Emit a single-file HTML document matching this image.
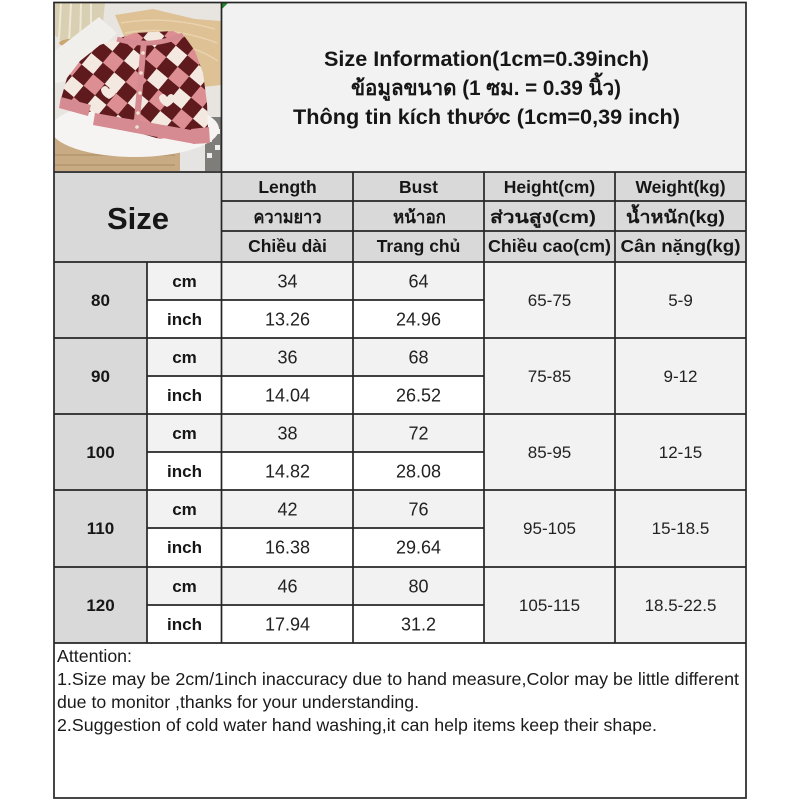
<!DOCTYPE html>
<html><head><meta charset="utf-8"><style>
html,body{margin:0;padding:0;background:#fff}
svg{display:block}
text{font-family:"Liberation Sans","DejaVu Sans","Noto Sans CJK SC",sans-serif;fill:#161616}
.b{font-weight:bold}
.c{text-anchor:middle}
.n{font-size:18px;fill:#222}
.u{font-size:17px;font-weight:bold}
.h{font-size:17.5px;font-weight:bold}
.m{font-size:17px;fill:#222}
.s{font-size:17px;font-weight:bold}
.a{font-size:17.5px;fill:#1a1a1a}
</style></head><body>
<svg width="800" height="800" viewBox="0 0 800 800" xmlns="http://www.w3.org/2000/svg">
<defs>
<pattern id="knit" width="30" height="30" patternUnits="userSpaceOnUse" patternTransform="rotate(40)">
<rect x="0" y="0" width="15" height="15" fill="#5e1a1c"/>
<rect x="15" y="0" width="15" height="15" fill="#dc8e93"/>
<rect x="0" y="15" width="15" height="15" fill="#f4e9e1"/>
<rect x="15" y="15" width="15" height="15" fill="#5e1a1c"/>
</pattern>
<clipPath id="pc"><rect x="0" y="0" width="166" height="168"/></clipPath>
</defs>
<rect x="0" y="0" width="800" height="800" fill="#fff"/>

<!-- fills -->
<rect x="222" y="2" width="524" height="170" fill="#f2f2f2"/>
<rect x="54" y="172" width="692" height="90" fill="#d9d9d9"/>
<rect x="54" y="262" width="93" height="381" fill="#d9d9d9"/>
<rect x="147" y="262" width="337" height="38" fill="#f2f2f2"/>
<rect x="147" y="338" width="337" height="38" fill="#f2f2f2"/>
<rect x="147" y="414" width="337" height="38" fill="#f2f2f2"/>
<rect x="147" y="490" width="337" height="38" fill="#f2f2f2"/>
<rect x="147" y="567" width="337" height="38" fill="#f2f2f2"/>
<rect x="484" y="262" width="262" height="381" fill="#f2f2f2"/>

<!-- photo -->
<g transform="translate(55,3)" clip-path="url(#pc)">
<rect x="0" y="0" width="166" height="168" fill="#e8e5e0"/>
<polygon points="0,0 50,0 46,38 28,44 8,40 0,32" fill="#d9cfb2"/>
<g stroke="#efe8d6" stroke-width="2"><line x1="6" y1="0" x2="4" y2="36"/><line x1="16" y1="0" x2="14" y2="40"/><line x1="26" y1="0" x2="25" y2="42"/><line x1="36" y1="0" x2="36" y2="40"/></g>
<ellipse cx="26" cy="40" rx="22" ry="5" fill="#c9a672"/>
<polygon points="0,48 44,14 62,30 12,78 0,80" fill="#f1efec"/>
<polygon points="60,12 98,6 140,16 166,18 166,82 148,84 120,60 72,40" fill="#dfc196"/>
<g stroke="#e9d2ad" stroke-width="1.5" fill="none"><path d="M66,20 Q110,12 160,26"/><path d="M70,30 Q115,22 162,40"/><path d="M90,42 Q130,36 163,58"/></g>
<rect x="0" y="128" width="125" height="40" fill="#c8ab82"/>
<g stroke="#b3966c" stroke-width="1.5"><line x1="0" y1="152" x2="120" y2="152"/><line x1="0" y1="162" x2="120" y2="162"/></g>
<rect x="125" y="120" width="41" height="48" fill="#e6e4e2"/>
<rect x="150" y="114" width="16" height="54" fill="#7e7d7a"/>
<g fill="#eeeeec"><rect x="152" y="118" width="5" height="5"/><rect x="160" y="126" width="5" height="5"/><rect x="152" y="134" width="5" height="5"/><rect x="160" y="142" width="5" height="5"/><rect x="152" y="150" width="5" height="5"/></g>
<ellipse cx="80" cy="126" rx="84" ry="28" fill="#f6f4f2"/>
<path d="M62,36 L80,30 L118,28 L130,34 L140,48 L148,70 L152,100 L153,128 L150,138 L138,138 L136,130 L105,136 L70,126 L42,116 L38,108 L30,110 L10,106 L6,96 L12,75 L25,58 L45,42 Z" fill="url(#knit)"/>
<g fill="#f4e9e1"><path d="M46,86 q4,-6 8,0 q4,-6 8,0 q0,6 -8,10 q-8,-4 -8,-10z"/><path d="M104,94 q4,-6 8,0 q4,-6 8,0 q0,6 -8,10 q-8,-4 -8,-10z"/></g>
<polygon points="40,110 142,128 140,141 38,122" fill="#d68a91"/>
<polygon points="6,94 36,102 33,113 4,105" fill="#d68a91"/>
<polygon points="136,126 154,124 155,140 138,141" fill="#d68a91"/>
<path d="M62,36 Q95,46 128,32" stroke="#d68a91" stroke-width="5" fill="none"/>
<line x1="89" y1="38" x2="81" y2="128" stroke="#d68a91" stroke-width="6"/>
<g fill="#efe3d0"><circle cx="88" cy="50" r="1.8"/><circle cx="86" cy="70" r="1.8"/><circle cx="85" cy="90" r="1.8"/><circle cx="83" cy="110" r="1.8"/><circle cx="82" cy="124" r="1.8"/></g>
</g>
<polygon points="222,2 229,2 222,9" fill="#1e8a2a"/>

<!-- grid lines -->
<g stroke="#262626" stroke-width="1.7" fill="none">
<rect x="54" y="2.5" width="692" height="795.5"/>
<line x1="54" y1="172" x2="746" y2="172"/>
<line x1="222" y1="201" x2="746" y2="201"/>
<line x1="222" y1="231" x2="746" y2="231"/>
<line x1="54" y1="262" x2="746" y2="262"/>
<line x1="54" y1="338" x2="746" y2="338"/>
<line x1="54" y1="414" x2="746" y2="414"/>
<line x1="54" y1="490" x2="746" y2="490"/>
<line x1="54" y1="567" x2="746" y2="567"/>
<line x1="54" y1="643" x2="746" y2="643"/>
<line x1="147" y1="300" x2="484" y2="300"/>
<line x1="147" y1="376" x2="484" y2="376"/>
<line x1="147" y1="452" x2="484" y2="452"/>
<line x1="147" y1="528" x2="484" y2="528"/>
<line x1="147" y1="605" x2="484" y2="605"/>
<line x1="221.5" y1="2.5" x2="221.5" y2="643"/>
<line x1="147" y1="262" x2="147" y2="643"/>
<line x1="353" y1="172" x2="353" y2="643"/>
<line x1="484" y1="172" x2="484" y2="643"/>
<line x1="615" y1="172" x2="615" y2="643"/>
</g>

<!-- title -->
<text class="b c" x="486.5" y="66" font-size="21.5" textLength="325" lengthAdjust="spacingAndGlyphs">Size Information(1cm=0.39inch)</text>
<text class="b c" x="486" y="95" font-size="21" textLength="270" lengthAdjust="spacingAndGlyphs">ข้อมูลขนาด (1 ซม. = 0.39 นิ้ว)</text>
<text class="b c" x="486.5" y="124" font-size="21.5" textLength="387" lengthAdjust="spacingAndGlyphs">Thông tin kích thước (1cm=0,39 inch)</text>

<!-- header -->
<text class="b c" x="138" y="229" font-size="31">Size</text>
<text class="h c" x="287.5" y="193">Length</text>
<text class="h c" x="418.5" y="193">Bust</text>
<text class="h c" x="549.5" y="193">Height(cm)</text>
<text class="h c" x="680.5" y="193">Weight(kg)</text>
<text class="h c" x="287.5" y="223" textLength="68" lengthAdjust="spacingAndGlyphs">ความยาว</text>
<text class="h c" x="419.5" y="223" textLength="53" lengthAdjust="spacingAndGlyphs">หน้าอก</text>
<text class="h c" x="543" y="223" textLength="106" lengthAdjust="spacingAndGlyphs">ส่วนสูง(cm)</text>
<text class="h c" x="675.5" y="223" textLength="99" lengthAdjust="spacingAndGlyphs">น้ำหนัก(kg)</text>
<text class="h c" x="287.5" y="252">Chiều dài</text>
<text class="h c" x="418.5" y="252">Trang chủ</text>
<text class="h c" x="549.5" y="252" textLength="123" lengthAdjust="spacingAndGlyphs">Chiều cao(cm)</text>
<text class="h c" x="680.5" y="252" textLength="120" lengthAdjust="spacingAndGlyphs">Cân nặng(kg)</text>

<!-- size column -->
<text class="s c" x="100.5" y="306">80</text>
<text class="s c" x="100.5" y="382">90</text>
<text class="s c" x="100.5" y="458">100</text>
<text class="s c" x="100.5" y="534">110</text>
<text class="s c" x="100.5" y="611">120</text>

<!-- units -->
<text class="u c" x="184.5" y="287">cm</text>
<text class="u c" x="184.5" y="325">inch</text>
<text class="u c" x="184.5" y="363">cm</text>
<text class="u c" x="184.5" y="401">inch</text>
<text class="u c" x="184.5" y="439">cm</text>
<text class="u c" x="184.5" y="477">inch</text>
<text class="u c" x="184.5" y="515">cm</text>
<text class="u c" x="184.5" y="553">inch</text>
<text class="u c" x="184.5" y="592">cm</text>
<text class="u c" x="184.5" y="630">inch</text>

<!-- length / bust -->
<text class="n c" x="287.5" y="287.5">34</text><text class="n c" x="418.5" y="287.5">64</text>
<text class="n c" x="287.5" y="325.5">13.26</text><text class="n c" x="418.5" y="325.5">24.96</text>
<text class="n c" x="287.5" y="363.5">36</text><text class="n c" x="418.5" y="363.5">68</text>
<text class="n c" x="287.5" y="401.5">14.04</text><text class="n c" x="418.5" y="401.5">26.52</text>
<text class="n c" x="287.5" y="439.5">38</text><text class="n c" x="418.5" y="439.5">72</text>
<text class="n c" x="287.5" y="477.5">14.82</text><text class="n c" x="418.5" y="477.5">28.08</text>
<text class="n c" x="287.5" y="515.5">42</text><text class="n c" x="418.5" y="515.5">76</text>
<text class="n c" x="287.5" y="553.5">16.38</text><text class="n c" x="418.5" y="553.5">29.64</text>
<text class="n c" x="287.5" y="592.5">46</text><text class="n c" x="418.5" y="592.5">80</text>
<text class="n c" x="287.5" y="630.5">17.94</text><text class="n c" x="418.5" y="630.5">31.2</text>

<!-- height / weight -->
<text class="m c" x="549.5" y="306">65-75</text><text class="m c" x="680.5" y="306">5-9</text>
<text class="m c" x="549.5" y="382">75-85</text><text class="m c" x="680.5" y="382">9-12</text>
<text class="m c" x="549.5" y="458">85-95</text><text class="m c" x="680.5" y="458">12-15</text>
<text class="m c" x="549.5" y="534">95-105</text><text class="m c" x="680.5" y="534">15-18.5</text>
<text class="m c" x="549.5" y="611">105-115</text><text class="m c" x="680.5" y="611">18.5-22.5</text>

<!-- attention -->
<text class="a" x="57" y="662" textLength="75" lengthAdjust="spacingAndGlyphs">Attention:</text>
<text class="a" x="57" y="685" textLength="682" lengthAdjust="spacingAndGlyphs">1.Size may be 2cm/1inch inaccuracy due to hand measure,Color may be little different</text>
<text class="a" x="57" y="708" textLength="362" lengthAdjust="spacingAndGlyphs">due to monitor ,thanks for your understanding.</text>
<text class="a" x="57" y="731" textLength="600" lengthAdjust="spacingAndGlyphs">2.Suggestion of cold water hand washing,it can help items keep their shape.</text>
</svg>
</body></html>
